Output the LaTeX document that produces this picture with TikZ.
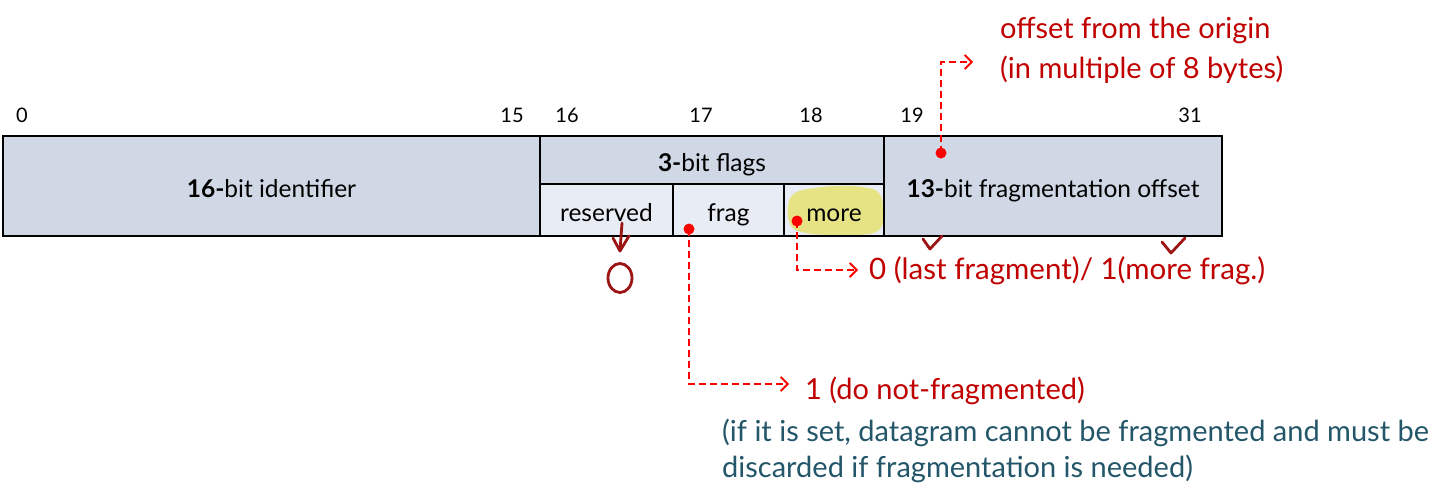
\documentclass[tikz,border=0pt]{standalone}
\usepackage{fontspec}
\setmainfont{Lato}
\usetikzlibrary{arrows.meta}
\definecolor{boxfill}{HTML}{D0D8E6}
\definecolor{subfill}{HTML}{E8ECF4}
\definecolor{annred}{HTML}{C00000}
\definecolor{dashred}{HTML}{FF0000}
\definecolor{handred}{HTML}{9C1414}
\definecolor{noteteal}{HTML}{24566A}
\definecolor{hilite}{HTML}{E6E385}
\begin{document}
\begin{tikzpicture}[x=1pt,y=-1pt,
  cell/.style={draw=black, line width=2.4pt, inner sep=0pt, outer sep=0pt,
    text height=24pt, text depth=2pt,
    font=\fontsize{24.5}{27}\selectfont},
  bitnum/.style={inner sep=0pt, font=\fontsize{20}{22}\selectfont},
  redtxt/.style={anchor=west, inner sep=0pt, text=annred, font=\fontsize{29}{32}\selectfont},
  tealtxt/.style={anchor=west, inner sep=0pt, text=noteteal, font=\fontsize{29}{32}\selectfont},
  dot/.style={circle, fill=dashred, inner sep=0pt, minimum size=11pt},
  dashline/.style={draw=dashred, line width=1.8pt, dash pattern=on 7pt off 4pt,
    -{Straight Barb[length=7pt,width=14pt,line width=1.8pt]}},
  handstroke/.style={draw=handred, line width=2.8pt, line cap=round, line join=round}
]
\useasboundingbox (0,0) rectangle (1451,488);

% bit numbers
\node[bitnum] (b0)  at (22,115)   {0};
\node[bitnum] (b15) at (512,115)  {15};
\node[bitnum] (b16) at (567,115)  {16};
\node[bitnum] (b17) at (701,115)  {17};
\node[bitnum] (b18) at (811,115)  {18};
\node[bitnum] (b19) at (912,115)  {19};
\node[bitnum] (b31) at (1190,115) {31};

% cells
\node[cell, fill=boxfill, minimum width=537pt, minimum height=100pt] (id) at (271.5,186) {\textbf{16-}bit identifier};
\node[cell, fill=boxfill, minimum width=344pt, minimum height=48pt] (flags) at (712,160) {\textbf{3-}bit flags};
\node[cell, fill=subfill, minimum width=133pt, minimum height=52pt] (res) at (606.5,210) {reserved};
\node[cell, fill=subfill, minimum width=111pt, minimum height=52pt] (frag) at (728.5,210) {frag};
\fill[subfill] (784,184) rectangle (884,236);
\fill[hilite] plot[smooth cycle, tension=0.7] coordinates {
  (788,207) (795,193) (815,188) (838,186) (862,187) (879,193) (883,212)
  (879,230) (858,235) (830,235) (806,233) (791,226)};
\node[cell, minimum width=100pt, minimum height=52pt] (more) at (834,210) {more};
\node[cell, fill=boxfill, minimum width=338pt, minimum height=100pt] (off) at (1053,186) {\textbf{13-}bit fragmentation offset};

% annotations: offset
\node[dot] (d1) at (941,153) {};
\coordinate (c1) at (941,62);
\coordinate (a1) at (973,62);
\node[redtxt] (t1) at (1000,30) {offset from the origin};
\node[redtxt] (t1b) at (1000,70) {(in multiple of 8 bytes)};
\draw[dashline] (d1.center) -- (c1) -- (a1);

% annotations: frag
\node[dot] (d2) at (689,229) {};
\coordinate (c2) at (689,384);
\coordinate (a2) at (789,384);
\node[redtxt] (t2) at (805,391) {1 (do not-fragmented)};
\draw[dashline] (d2.center) -- (c2) -- (a2);
\node[tealtxt] (t4) at (722,433) {(if it is set, datagram cannot be fragmented and must be};
\node[tealtxt] (t5) at (722,469) {discarded if fragmentation is needed)};

% annotations: more
\node[dot] (d3) at (797,221) {};
\coordinate (c3) at (797,270);
\coordinate (a3) at (858,270);
\node[redtxt, font=\fontsize{29.5}{32}\selectfont] (t3) at (869,271) {0 (last fragment)/ 1(more frag.)};
\draw[dashline] (d3.center) -- (c3) -- (a3);

% handwriting
\draw[handstroke] (622,223) -- (620,251);
\draw[handstroke] (613,238) -- (620,251) -- (629,236);
\draw[handstroke] (620,278) ellipse [x radius=12, y radius=14.5];
\draw[handstroke] (923,239) -- (930,249) -- (942,236);
\draw[handstroke] (1162,242) -- (1171,253) -- (1185,238);
\end{tikzpicture}
\end{document}
